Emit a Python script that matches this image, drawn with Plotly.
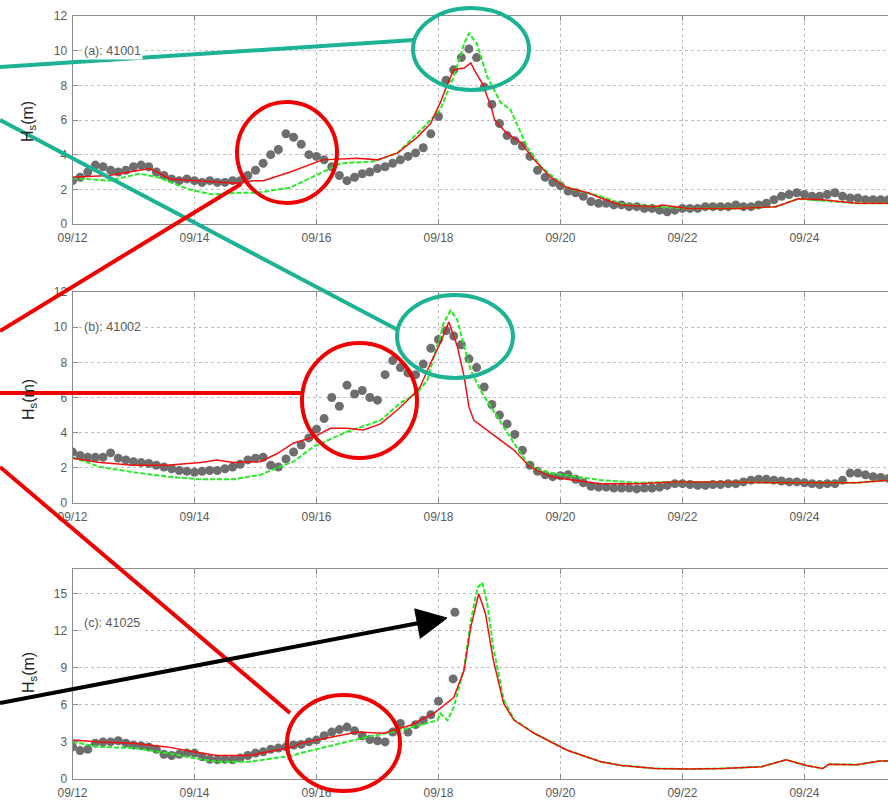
import numpy as np
import pandas as pd
import plotly.graph_objects as go

FIG_W, FIG_H = 888, 800
START = pd.Timestamp("2012-09-12")
SPAN_DAYS = 13.37

# x-axis ticks (every two days)
tick_days = [0, 2, 4, 6, 8, 10, 12]
tick_text = ["09/12", "09/14", "09/16", "09/18", "09/20", "09/22", "09/24"]

# ---------------- Buoy 41001 ----------------
# observed Hs, 3-hourly from 09/12 00:00
obs_41001 = [2.5, 2.7, 3.0, 3.4, 3.3, 3.1, 3.0, 3.1, 3.3, 3.4,
             3.3, 3.0, 2.8, 2.6, 2.5, 2.6, 2.5, 2.4, 2.5, 2.4,
             2.4, 2.5, 2.5, 2.8, 3.1, 3.5, 4.0, 4.3, 5.2, 5.0,
             4.6, 4.0, 3.9, 3.7, 3.3, 2.8, 2.5, 2.7, 2.9, 3.0,
             3.2, 3.3, 3.5, 3.7, 3.9, 4.1, 4.4, 5.2, 6.2, 8.3,
             8.9, 9.6, 10.1, 9.6, 7.9, 6.9, 5.8, 5.1, 4.8, 4.5,
             3.9, 3.1, 2.7, 2.4, 2.2, 1.9, 1.8, 1.6, 1.3, 1.2,
             1.2, 1.1, 1.1, 1.0, 1.0, 0.9, 0.9, 0.8, 0.7, 0.8,
             0.9, 0.9, 0.9, 1.0, 1.0, 1.0, 1.0, 1.1, 1.0, 1.0,
             1.1, 1.2, 1.4, 1.6, 1.7, 1.8, 1.7, 1.6, 1.6, 1.7,
             1.8, 1.6, 1.5, 1.5, 1.4, 1.4, 1.4, 1.4]
# model run 1 (red)
run1_41001_days = [0, 0.6, 1.1, 1.27, 1.6, 2.1, 2.67, 2.96, 3.13, 3.57, 4.1, 4.67, 5.0,
                   5.33, 5.65, 5.87, 6.03, 6.15, 6.25, 6.42, 6.53, 6.6, 6.72, 6.86, 6.92,
                   7.13, 7.35, 7.57, 7.84, 8.1, 8.45, 8.66, 9.0, 9.56, 9.66, 10.1, 10.9,
                   11.53, 11.9, 12.3, 12.85, 13.4]
run1_41001 = [2.7, 2.8, 3.1, 3.2, 2.6, 2.5, 2.35, 2.5, 2.5, 3.0, 3.7, 3.8, 3.7,
              4.1, 5.0, 5.8, 7.0, 8.1, 8.9, 9.0, 9.3, 8.8, 8.1, 6.8, 6.0,
              5.2, 4.7, 3.7, 2.7, 2.1, 1.8, 1.5, 1.1, 1.0, 1.1, 0.9, 0.9,
              1.0, 1.45, 1.4, 1.2, 1.2]
# model run 2 (green)
run2_41001_days = [0, 0.6, 1.1, 1.4, 1.9, 2.3, 2.7, 3.03, 3.57, 4.1, 4.4, 4.93, 5.33,
                   5.76, 6.03, 6.25, 6.42, 6.5, 6.63, 6.8, 7.02, 7.18, 7.46, 7.68, 8.1,
                   8.66, 9.0, 9.56, 10.1, 10.9, 11.53, 11.9, 12.3, 12.85, 13.4]
run2_41001 = [2.65, 2.5, 2.9, 2.7, 2.0, 1.7, 1.8, 1.8, 2.1, 3.0, 3.5, 3.6, 4.1,
              5.6, 6.6, 8.5, 10.4, 11.0, 10.4, 8.5, 7.0, 6.6, 4.4, 3.3, 2.1,
              1.6, 1.15, 1.0, 0.9, 0.9, 1.0, 1.45, 1.35, 1.2, 1.2]

# ---------------- Buoy 41002 ----------------
obs_41002 = [2.9, 2.7, 2.6, 2.6, 2.6, 2.85, 2.55, 2.45, 2.35, 2.3,
             2.25, 2.15, 2.05, 1.95, 1.85, 1.8, 1.75, 1.8, 1.85, 1.85,
             1.95, 2.05, 2.2, 2.45, 2.55, 2.6, 2.15, 2.05, 2.5, 2.9,
             3.3, 3.7, 4.2, 4.8, 6.0, 5.5, 6.7, 6.2, 6.4, 6.0,
             5.85, 7.3, 8.1, 7.7, 7.4, 7.3, 7.9, 8.8, 9.3, 9.8,
             9.5, 9.0, 8.2, 7.7, 6.6, 5.6, 5.0, 4.5, 3.9, 3.0,
             2.15, 1.8, 1.6, 1.5, 1.55, 1.6, 1.35, 1.15, 0.95, 0.9,
             0.9, 0.85, 0.85, 0.85, 0.8, 0.85, 0.85, 0.9, 1.0, 1.1,
             1.1, 1.05, 1.0, 1.0, 1.05, 1.05, 1.1, 1.1, 1.2, 1.3,
             1.35, 1.35, 1.3, 1.25, 1.2, 1.2, 1.15, 1.1, 1.05, 1.1,
             1.1, 1.3, 1.7, 1.7, 1.6, 1.5, 1.45, 1.4]
run1_41002_days = [0, 0.45, 1.0, 1.55, 2.1, 2.37, 2.64, 3.08, 3.35, 3.62, 3.95, 4.23,
                   4.5, 4.77, 5.05, 5.33, 5.54, 5.7, 5.87, 6.03, 6.17, 6.31, 6.42, 6.5,
                   6.58, 6.8, 7.02, 7.24, 7.5, 7.84, 8.1, 8.66, 9.28, 9.83, 10.65,
                   11.75, 12.85, 13.4]
run1_41002 = [2.55, 2.3, 2.15, 2.15, 2.3, 2.45, 2.3, 2.35, 2.8, 3.4, 3.75, 4.25,
              4.25, 4.15, 4.5, 5.3, 6.0, 6.6, 7.95, 9.1, 10.3, 8.9, 7.2, 5.45,
              4.7, 4.15, 3.6, 3.0, 2.05, 1.5, 1.35, 1.1, 1.1, 1.2, 1.2,
              1.15, 1.15, 1.3]
run2_41002_days = [0, 0.45, 1.0, 1.55, 2.1, 2.64, 3.08, 3.35, 3.62, 3.95, 4.5, 5.05,
                   5.38, 5.65, 5.82, 5.92, 6.03, 6.08, 6.2, 6.31, 6.42, 6.53, 6.69,
                   6.86, 7.02, 7.24, 7.5, 7.84, 8.66, 9.28, 9.83, 10.65, 11.75, 12.85,
                   13.4]
run2_41002 = [2.6, 2.05, 1.75, 1.5, 1.35, 1.35, 1.6, 2.0, 2.35, 3.2, 4.05, 4.7,
              5.7, 6.25, 7.0, 8.3, 9.45, 10.2, 10.95, 10.4, 8.9, 7.55, 6.4,
              5.45, 4.55, 3.4, 2.05, 1.7, 1.3, 1.15, 1.2, 1.2, 1.15, 1.15,
              1.3]

# ---------------- Buoy 41025 ----------------
obs_41025_days = [0, 0.125, 0.25, 0.375, 0.5, 0.625, 0.75, 0.875, 1.0, 1.125,
                  1.25, 1.375, 1.5, 1.625, 1.75, 1.875, 2.0, 2.125, 2.25, 2.375,
                  2.5, 2.625, 2.75, 2.875, 3.0, 3.125, 3.25, 3.375, 3.5, 3.625,
                  3.75, 3.875, 4.0, 4.125, 4.25, 4.375, 4.5, 4.625, 4.75, 4.875,
                  5.0, 5.125, 5.25, 5.375, 5.5, 5.625, 5.75, 5.875, 6.0, 6.24, 6.27]
obs_41025 = [2.6, 2.3, 2.4, 2.9, 3.0, 3.0, 3.1, 2.9, 2.75, 2.7,
             2.6, 2.4, 2.0, 1.9, 2.0, 2.1, 2.1, 1.8, 1.6, 1.55,
             1.6, 1.55, 1.7, 1.9, 2.1, 2.2, 2.4, 2.5, 2.6, 2.75,
             2.8, 3.0, 3.15, 3.5, 3.8, 4.0, 4.2, 3.9, 3.5, 3.2,
             3.1, 3.0, 3.8, 4.5, 3.8, 4.4, 4.75, 5.2, 6.3, 8.1, 13.5]
run1_41025_days = [0, 0.45, 1.0, 1.55, 1.98, 2.37, 2.9, 3.35, 3.62, 3.74, 4.28, 4.67,
                   5.1, 5.54, 5.92, 6.25, 6.42, 6.53, 6.66, 6.77, 6.9, 7.07, 7.24,
                   7.57, 8.1, 8.66, 9.0, 9.56, 10.1, 10.65, 11.3, 11.7, 12.03, 12.3,
                   12.4, 12.85, 13.23, 13.4]
run1_41025 = [3.15, 3.0, 2.9, 2.6, 2.2, 1.9, 1.9, 2.35, 2.6, 2.9, 3.4, 3.8,
              3.7, 4.35, 5.3, 6.6, 8.8, 12.3, 15.0, 13.4, 9.6, 6.1, 4.75,
              3.7, 2.35, 1.4, 1.1, 0.85, 0.8, 0.85, 1.0, 1.55, 1.1, 0.85,
              1.2, 1.15, 1.45, 1.45]
run2_41025_days = [0, 0.45, 1.0, 1.55, 1.98, 2.37, 2.9, 3.35, 3.62, 3.74, 4.28, 4.83,
                   5.38, 5.82, 5.98, 6.03, 6.15, 6.25, 6.42, 6.53, 6.64, 6.72, 6.8,
                   6.9, 7.07, 7.24, 7.57, 8.1, 8.66, 9.0, 9.56, 10.1, 10.65, 11.3,
                   11.7, 12.03, 12.3, 12.4, 12.85, 13.23, 13.4]
run2_41025 = [3.0, 2.6, 2.5, 2.1, 1.7, 1.4, 1.4, 1.7, 1.9, 2.1, 2.75, 3.4,
              3.95, 4.5, 4.75, 5.3, 4.75, 5.8, 9.0, 12.8, 15.5, 15.9, 14.2,
              10.6, 6.4, 4.8, 3.7, 2.35, 1.4, 1.1, 0.85, 0.8, 0.85, 1.0,
              1.55, 1.1, 0.85, 1.2, 1.15, 1.45, 1.45]

OBS_COLOR = "#6e6e6e"
RUN1_COLOR = "#f01010"
RUN2_COLOR = "#22ee22"
AXIS_GRAY = "#8c8c8c"
GRID_GRAY = "#bdbdbd"
TEXT_GRAY = "#5a5a5a"
FONT = "Liberation Sans, Arial, Helvetica, sans-serif"


def when(days):
    return START + pd.to_timedelta(np.asarray(days, dtype=float), unit="D")


def px_x(px):
    return px / FIG_W


def px_y(py):
    return 1 - py / FIG_H


obs_3h_41001 = pd.date_range(START, periods=len(obs_41001), freq="3h")
obs_3h_41002 = pd.date_range(START, periods=len(obs_41002), freq="3h")

panels = [
    dict(tag="(a): 41001", obs_t=obs_3h_41001, obs=obs_41001,
         r1_t=when(run1_41001_days), r1=run1_41001,
         r2_t=when(run2_41001_days), r2=run2_41001,
         ymax=12, dtick=2, label_y=10, top=16, bottom=224, ylabel_c=122),
    dict(tag="(b): 41002", obs_t=obs_3h_41002, obs=obs_41002,
         r1_t=when(run1_41002_days), r1=run1_41002,
         r2_t=when(run2_41002_days), r2=run2_41002,
         ymax=12, dtick=2, label_y=10, top=292, bottom=503, ylabel_c=400),
    dict(tag="(c): 41025", obs_t=when(obs_41025_days), obs=obs_41025,
         r1_t=when(run1_41025_days), r1=run1_41025,
         r2_t=when(run2_41025_days), r2=run2_41025,
         ymax=17, dtick=3, label_y=12.6, top=569, bottom=779, ylabel_c=673),
]

fig = go.Figure()
annotations = []
x_left = 72.5

for i, p in enumerate(panels, start=1):
    sfx = "" if i == 1 else str(i)
    xa, ya = f"x{sfx}", f"y{sfx}"

    fig.add_trace(go.Scatter(x=p["obs_t"], y=p["obs"], mode="markers",
                             marker=dict(size=9, color=OBS_COLOR),
                             xaxis=xa, yaxis=ya, showlegend=False, hoverinfo="skip"))
    fig.add_trace(go.Scatter(x=p["r2_t"], y=p["r2"], mode="lines",
                             line=dict(color=RUN2_COLOR, width=2, dash="5px,2px"),
                             xaxis=xa, yaxis=ya, showlegend=False, hoverinfo="skip"))
    fig.add_trace(go.Scatter(x=p["r1_t"], y=p["r1"], mode="lines",
                             line=dict(color=RUN1_COLOR, width=1.5),
                             xaxis=xa, yaxis=ya, showlegend=False, hoverinfo="skip"))

    fig.layout[f"xaxis{sfx}"] = dict(
        domain=[px_x(x_left), 1.0],
        anchor=ya, automargin=False,
        range=[START, START + pd.Timedelta(days=SPAN_DAYS)],
        tickvals=list(when(tick_days)), ticktext=tick_text,
        ticks="inside", ticklen=5, tickcolor=AXIS_GRAY,
        ticklabelstandoff=3,
        showline=True, linecolor=AXIS_GRAY, linewidth=1, mirror="ticks",
        showgrid=True, gridcolor=GRID_GRAY, griddash="dot", gridwidth=1,
        zeroline=False,
        tickfont=dict(family=FONT, size=12, color=TEXT_GRAY),
    )
    fig.layout[f"yaxis{sfx}"] = dict(
        domain=[px_y(p["bottom"]), px_y(p["top"])],
        anchor=xa, automargin=False,
        range=[0, p["ymax"]],
        tick0=0, dtick=p["dtick"],
        ticks="inside", ticklen=5, tickcolor=AXIS_GRAY,
        ticklabelstandoff=2,
        showline=True, linecolor=AXIS_GRAY, linewidth=1,
        showgrid=True, gridcolor=GRID_GRAY, griddash="dot", gridwidth=1,
        zeroline=False,
        tickfont=dict(family=FONT, size=12, color=TEXT_GRAY),
    )

    annotations.append(dict(
        xref=xa, yref=ya, x=START + pd.Timedelta(days=0.15), y=p["label_y"],
        text=p["tag"], showarrow=False, xanchor="left", yanchor="middle",
        bgcolor="white", font=dict(family=FONT, size=12.5, color=TEXT_GRAY)))
    annotations.append(dict(
        xref="paper", yref="paper", x=px_x(29), y=px_y(p["ylabel_c"]),
        text="H<sub>s</sub>(m)", textangle=-90, showarrow=False,
        xanchor="center", yanchor="middle",
        font=dict(family=FONT, size=16, color="#222222")))

# highlight marks drawn over the panels (page pixel positions)
TEAL = "#1cb394"
MARK_RED = "#f00000"


def ring(x0, y0, x1, y1, color):
    return dict(type="circle", xref="paper", yref="paper", layer="above",
                x0=px_x(x0), x1=px_x(x1), y0=px_y(y1), y1=px_y(y0),
                line=dict(color=color, width=4))


def stroke(x0, y0, x1, y1, color):
    return dict(type="line", xref="paper", yref="paper", layer="above",
                x0=px_x(x0), y0=px_y(y0), x1=px_x(x1), y1=px_y(y1),
                line=dict(color=color, width=4))


def head(points, color):
    path = "M " + " L ".join(f"{px_x(a):.5f},{px_y(b):.5f}" for a, b in points) + " Z"
    return dict(type="path", xref="paper", yref="paper", layer="above", path=path,
                fillcolor=color, line=dict(color=color, width=1))


shapes = [
    ring(413, 8, 529, 90, TEAL),
    ring(397, 295, 513, 378, TEAL),
    stroke(0, 67, 414, 40, TEAL),
    stroke(0, 120, 398, 330, TEAL),
    ring(237, 102, 337, 203, MARK_RED),
    ring(302, 343, 417, 458, MARK_RED),
    ring(287, 695, 400, 791, MARK_RED),
    stroke(0, 331, 241, 184, MARK_RED),
    stroke(0, 393, 303, 393, MARK_RED),
    stroke(0, 467, 290, 713, MARK_RED),
    stroke(0, 703, 419, 623, "black"),
    head([(447, 618), (414.7, 608.9), (420.3, 638.3)], "black"),
]

fig.update_layout(
    width=FIG_W, height=FIG_H,
    margin=dict(l=0, r=0, t=0, b=0, autoexpand=False),
    paper_bgcolor="white", plot_bgcolor="white",
    annotations=annotations, shapes=shapes,
    font=dict(family=FONT),
)

fig.write_html("out.html")
